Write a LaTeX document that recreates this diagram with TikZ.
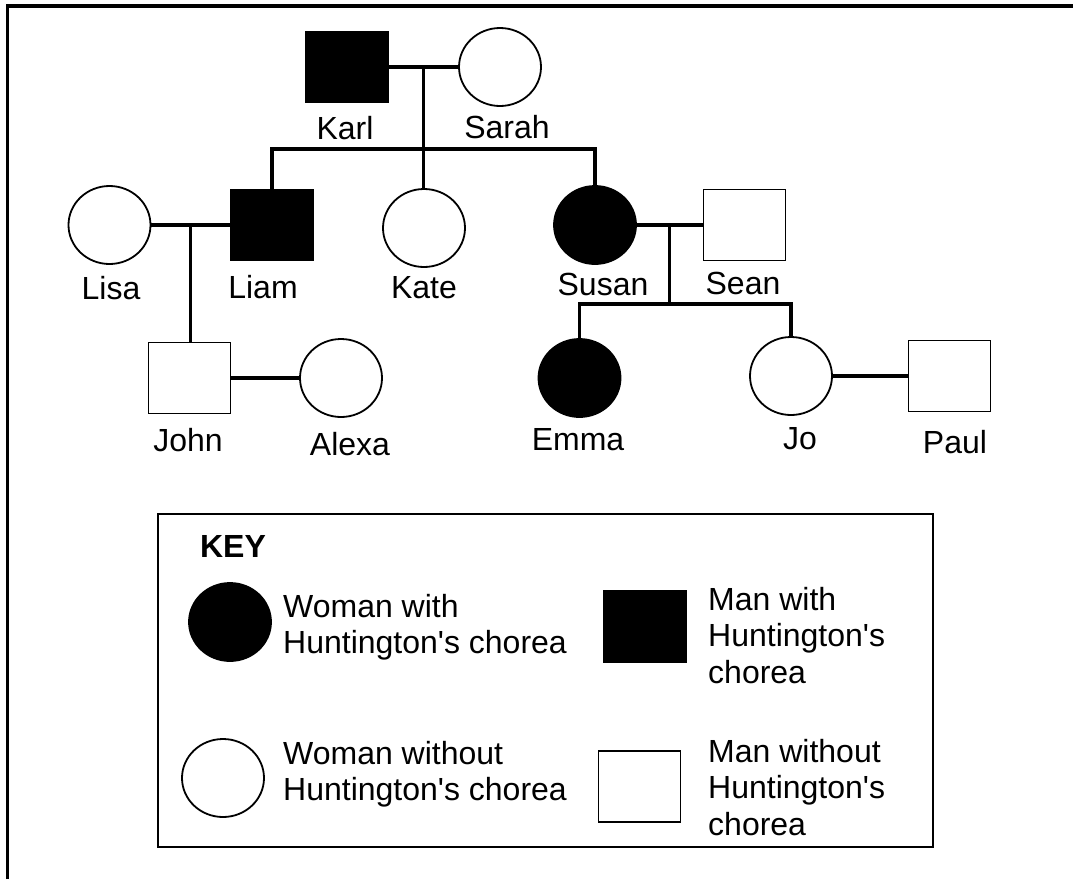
\documentclass[tikz,border=0pt]{standalone}
\usepackage{fontspec}
\setmainfont{Liberation Sans}
\usetikzlibrary{calc,shapes.geometric}

\begin{document}
\begin{tikzpicture}[x=1pt,y=-1pt,
    font=\fontsize{32}{36.5}\selectfont,
    woman/.style={ellipse,draw,line width=1.8pt,minimum width=82pt,minimum height=78pt,inner sep=0pt},
    man/.style={rectangle,draw,line width=1.8pt,minimum width=82pt,minimum height=71pt,inner sep=0pt},
    ill/.style={fill=black},
    famline/.style={line width=3.4pt},
    keytext/.style={anchor=north west,align=left,inner sep=0pt}]
    \useasboundingbox (0,0) rectangle (1073,879);

    % frame
    \draw[line width=3.2pt] (7.5,879) -- (7.5,6) -- (1073,6);

    % first generation
    \node[man,ill]  (karl)  at (347,67) {};
    \node[woman]    (sarah) at (500,67) {};
    % second generation
    \node[woman]    (lisa)  at (109.5,225) {};
    \node[man,ill]  (liam)  at (272,225) {};
    \node[woman]    (kate)  at (424,228) {};
    \node[woman,ill] (susan) at (595,225) {};
    \node[man]      (sean)  at (744.5,225) {};
    % third generation
    \node[man]      (john)  at (189.5,378) {};
    \node[woman]    (alexa) at (341,378) {};
    \node[woman,ill] (emma) at (579.5,378) {};
    \node[woman]    (jo)    at (791,376) {};
    \node[man]      (paul)  at (949.5,376) {};

    % names
    \foreach \n/\t/\x/\y in {karl/Karl/345/128, sarah/Sarah/507/127,
        lisa/Lisa/111/288, liam/Liam/263/287, kate/Kate/424/288,
        susan/Susan/603/284, sean/Sean/743/283,
        john/John/188/440, alexa/Alexa/350/444, emma/Emma/578/440,
        jo/Jo/800/439, paul/Paul/955/442}
        {
          \node (\n L) at (\x,\y) {\t};
        }

    % marriages and children
    \draw[famline] (karl) -- (sarah);
    \coordinate (cKS) at ($(karl.east)!0.5!(sarah.west)$);
    \draw[famline] (cKS) -- (cKS |- kate.north);
    \coordinate (bar1) at (424,149);
    \draw[famline] (liam.north) |- (bar1) -| (susan.north);

    \draw[famline] (lisa) -- (liam);
    \coordinate (cLL) at ($(lisa.east)!0.5!(liam.west)$);
    \draw[famline] (cLL) -- (cLL |- john.north);

    \draw[famline] (susan) -- (sean);
    \coordinate (cSS) at ($(susan.east)!0.5!(sean.west)$);
    \draw[famline] (cSS) -- ++(0,79) coordinate (bar2);
    \draw[famline] (emma.north) |- (bar2) -| (jo.north);

    \draw[famline] (john) -- (alexa);
    \draw[famline] (jo) -- (paul);

    % key
    \draw[line width=2.5pt] (158,514) rectangle (933,847);
    \node (keyT) at (233,546.5) {\bfseries KEY};
    \node[woman,ill] (keyWF) at (230,622) {};
    \node[woman]     (keyWN) at (223,778) {};
    \node[man,ill]   (keyMF) at (645,626.5) {};
    \node[man]       (keyMN) at (639.5,786.5) {};
    \node[keytext] (keyWFt) at (283,594) {Woman with\\Huntington\textquotesingle s chorea};
    \node[keytext] (keyWNt) at (283,741) {Woman without\\Huntington\textquotesingle s chorea};
    \node[keytext] (keyMFt) at (708,587) {Man with\\Huntington\textquotesingle s\\chorea};
    \node[keytext] (keyMNt) at (708,739) {Man without\\Huntington\textquotesingle s\\chorea};
\end{tikzpicture}
\end{document}
